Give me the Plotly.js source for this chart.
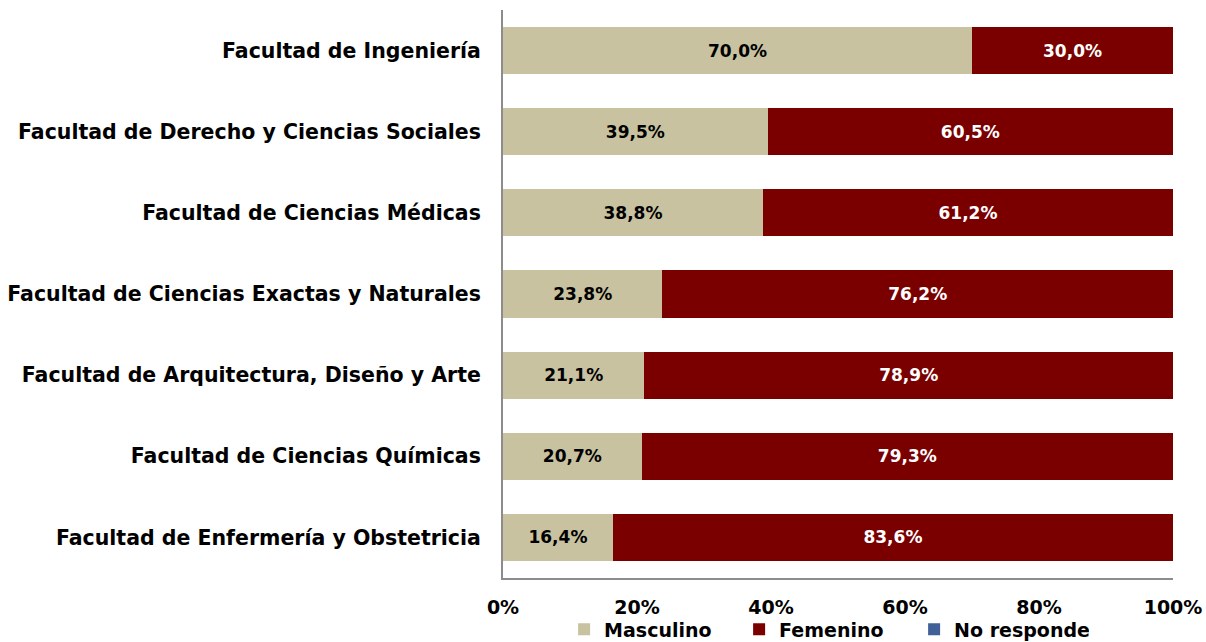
<!DOCTYPE html>
<html>
<head>
<meta charset="utf-8">
<script src="https://cdn.plot.ly/plotly-3.0.1.min.js"></script>
<style>html,body{margin:0;padding:0;background:#fff;}#chart{width:1206px;height:642px;}</style>
</head>
<body>
<div id="chart"></div>
<script>
const categories = [
  "Facultad de Enfermería y Obstetricia",
  "Facultad de Ciencias Químicas",
  "Facultad de Arquitectura, Diseño y Arte",
  "Facultad de Ciencias Exactas y Naturales",
  "Facultad de Ciencias Médicas",
  "Facultad de Derecho y Ciencias Sociales",
  "Facultad de Ingeniería"
];
const masculino = [16.4, 20.7, 21.1, 23.8, 38.8, 39.5, 70.0];
const femenino  = [83.6, 79.3, 78.9, 76.2, 61.2, 60.5, 30.0];
const noResponde = [0, 0, 0, 0, 0, 0, 0];
const xTicks = [0, 20, 40, 60, 80, 100];

const FONT = "DejaVu Sans, Liberation Sans, Arial, sans-serif";

const traces = [
  {name: "Masculino", x: masculino, y: categories, type: "bar", orientation: "h",
   marker: {color: "#C8C2A0"}, texttemplate: "%{x:.1f}%", textposition: "inside",
   insidetextanchor: "middle", textangle: 0,
   textfont: {family: FONT, size: 17, color: "#000", weight: "bold"}, hoverinfo: "skip"},
  {name: "Femenino", x: femenino, y: categories, type: "bar", orientation: "h",
   marker: {color: "#7A0000"}, texttemplate: "%{x:.1f}%", textposition: "inside",
   insidetextanchor: "middle", textangle: 0,
   textfont: {family: FONT, size: 17, color: "#fff", weight: "bold"}, hoverinfo: "skip"},
  {name: "No responde", x: noResponde, y: categories, type: "bar", orientation: "h",
   marker: {color: "#3F6198"}, textposition: "none", hoverinfo: "skip"}
];

const layout = {
  width: 1206, height: 642,
  margin: {l: 503, r: 33, t: 10, b: 64.4, pad: 0, autoexpand: false},
  barmode: "stack",
  bargap: 0.42,
  separators: ",.",
  paper_bgcolor: "#fff", plot_bgcolor: "#fff",
  showlegend: true,
  font: {family: FONT, color: "#000"},
  xaxis: {
    range: [0, 100], tickvals: xTicks, ticktext: xTicks.map(v => v + "%"),
    showgrid: false, zeroline: false, showline: true, linecolor: "#8C8C8C", linewidth: 2,
    ticks: "", tickfont: {family: FONT, size: 19, weight: "bold", color: "#000"},
    ticklabelstandoff: 11, fixedrange: true
  },
  yaxis: {
    categoryorder: "array", categoryarray: categories,
    range: [-0.5, 6.5],
    showgrid: false, zeroline: false, showline: true, linecolor: "#8C8C8C", linewidth: 2,
    ticks: "", tickfont: {family: FONT, size: 20.5, weight: "bold", color: "#000"},
    ticklabelstandoff: 16, fixedrange: true
  },
  legend: {
    orientation: "h", x: 0.483, xanchor: "center", y: -0.057, yanchor: "top",
    bgcolor: "rgba(0,0,0,0)",
    font: {family: FONT, size: 19, weight: "bold", color: "#000"},
    traceorder: "normal", entrywidth: 130, itemwidth: 30, itemclick: false
  }
};

Plotly.newPlot("chart", traces, layout, {displayModeBar: false, staticPlot: true});
</script>
</body>
</html>
